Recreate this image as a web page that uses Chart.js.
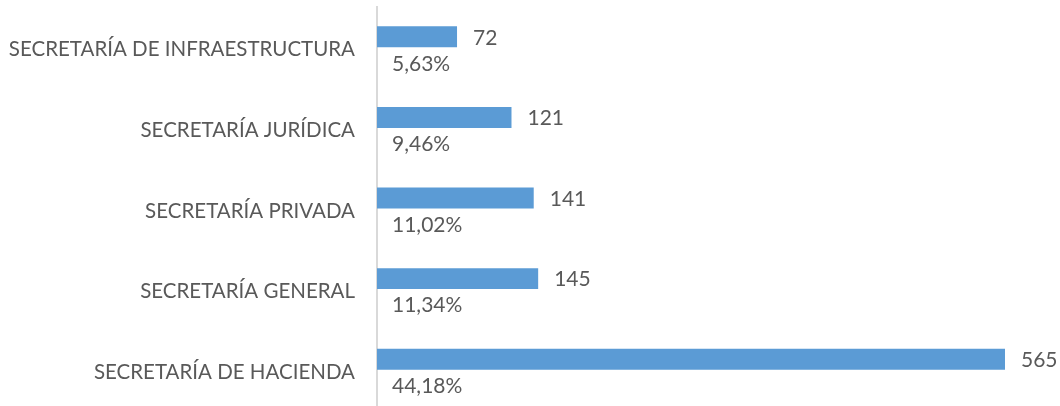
<!DOCTYPE html>
<html lang="es">
<head>
    <meta charset="UTF-8">
    <title>Secretarías</title>
    <script src="https://cdn.jsdelivr.net/npm/chart.js"></script>
    <style>
        html, body {
            margin: 0;
            padding: 0;
            background: #ffffff;
            overflow: hidden;
            width: 1060px;
            height: 406px;
        }
        canvas {
            display: block;
        }
    </style>
</head>
<body>
    <canvas id="chart" width="1060" height="412"></canvas>

    <script>
        const categories = [
            "SECRETARÍA DE INFRAESTRUCTURA",
            "SECRETARÍA JURÍDICA",
            "SECRETARÍA PRIVADA",
            "SECRETARÍA GENERAL",
            "SECRETARÍA DE HACIENDA"
        ];
        const counts = [72, 121, 141, 145, 565];
        const shares = [5.63, 9.46, 11.02, 11.34, 44.18]; // percent

        const textColor = '#595959';
        const fontFamily = 'Lato, "Open Sans", sans-serif';
        const fontSize = 21;

        // draws the count at the end of each bar and the share under it
        const barLabels = {
            id: 'barLabels',
            afterDatasetsDraw(chart) {
                const ctx = chart.ctx;
                const left = chart.chartArea.left;
                const bars = chart.getDatasetMeta(0).data;
                const ghost = chart.getDatasetMeta(1).data;
                ctx.save();
                ctx.font = fontSize + 'px ' + fontFamily;
                ctx.fillStyle = textColor;
                ctx.textBaseline = 'middle';
                ctx.textAlign = 'left';
                bars.forEach((bar, i) => {
                    ctx.fillText(String(counts[i]), bar.x + 16, bar.y + 1);
                    const txt = shares[i].toFixed(2).replace('.', ',') + '%';
                    ctx.fillText(txt, left + 15, ghost[i].y + 6);
                });
                ctx.restore();
            }
        };

        new Chart(document.getElementById('chart'), {
            type: 'bar',
            data: {
                labels: categories,
                datasets: [{
                    label: 'Cantidad',
                    data: counts,
                    backgroundColor: '#5b9bd5',
                    borderWidth: 0,
                    barPercentage: 1,
                    categoryPercentage: 0.52
                }, {
                    label: 'Porcentaje',
                    data: shares,
                    backgroundColor: 'rgba(0,0,0,0)',
                    borderWidth: 0,
                    barPercentage: 1,
                    categoryPercentage: 0.52
                }]
            },
            options: {
                indexAxis: 'y',
                responsive: false,
                animation: false,
                layout: {
                    padding: { top: 7, right: 55, bottom: 2, left: 0 }
                },
                plugins: {
                    legend: { display: false },
                    tooltip: { enabled: false }
                },
                scales: {
                    x: {
                        display: false,
                        min: 0,
                        max: 565
                    },
                    y: {
                        afterFit(scale) {
                            scale.width = 377;
                            // no extra room above/below for the tick labels
                            scale.paddingTop = 0;
                            scale.paddingBottom = 0;
                        },
                        grid: { display: false, drawTicks: false },
                        border: { display: true, color: '#d9d9d9', width: 2 },
                        ticks: {
                            padding: 22,
                            labelOffset: 2.5,
                            color: textColor,
                            font: { family: fontFamily, size: 20.5 }
                        }
                    }
                }
            },
            plugins: [barLabels]
        });
    </script>
</body>
</html>
